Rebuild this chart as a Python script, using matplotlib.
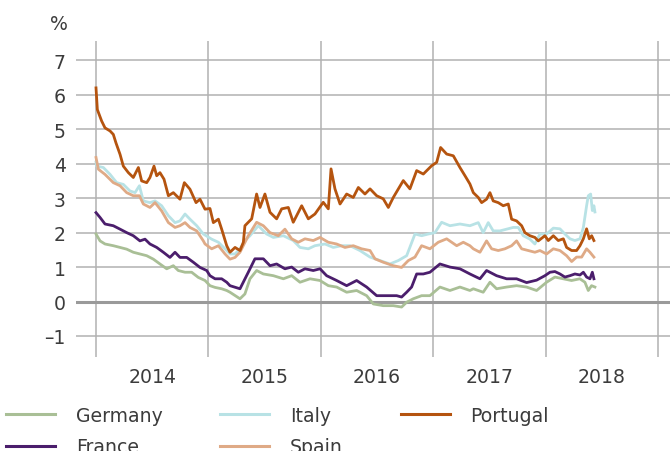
import matplotlib
matplotlib.use("Agg")
import matplotlib.pyplot as plt

# 10y government bond yields, % (decimal year, value)
germany = [(2014.000, 1.96), (2014.036, 1.76), (2014.080, 1.67), (2014.154, 1.62), (2014.214, 1.57),
           (2014.273, 1.52), (2014.332, 1.43), (2014.391, 1.38), (2014.451, 1.33), (2014.510, 1.23),
           (2014.569, 1.09), (2014.629, 0.95), (2014.688, 1.04), (2014.732, 0.90), (2014.792, 0.85),
           (2014.851, 0.85), (2014.910, 0.70), (2014.970, 0.61), (2015.014, 0.46), (2015.059, 0.41),
           (2015.118, 0.37), (2015.163, 0.32), (2015.192, 0.27), (2015.281, 0.08), (2015.325, 0.22),
           (2015.370, 0.66), (2015.429, 0.90), (2015.489, 0.80), (2015.578, 0.75), (2015.667, 0.66),
           (2015.741, 0.75), (2015.815, 0.56), (2015.904, 0.66), (2015.993, 0.61), (2016.067, 0.46),
           (2016.141, 0.42), (2016.230, 0.27), (2016.319, 0.32), (2016.408, 0.17), (2016.467, -0.07),
           (2016.556, -0.12), (2016.645, -0.12), (2016.719, -0.16), (2016.764, -0.02), (2016.823, 0.08),
           (2016.897, 0.17), (2016.971, 0.17), (2017.060, 0.42), (2017.149, 0.32), (2017.238, 0.42),
           (2017.327, 0.32), (2017.357, 0.37), (2017.445, 0.27), (2017.505, 0.56), (2017.564, 0.37),
           (2017.653, 0.42), (2017.742, 0.46), (2017.831, 0.42), (2017.920, 0.32), (2018.009, 0.56),
           (2018.083, 0.71), (2018.157, 0.66), (2018.231, 0.61), (2018.305, 0.66), (2018.350, 0.56),
           (2018.380, 0.32), (2018.409, 0.46), (2018.439, 0.42)]

france = [(2014.000, 2.58), (2014.036, 2.44), (2014.080, 2.25), (2014.154, 2.20), (2014.214, 2.10),
          (2014.273, 2.00), (2014.332, 1.91), (2014.391, 1.76), (2014.436, 1.81), (2014.480, 1.67),
          (2014.540, 1.57), (2014.599, 1.43), (2014.658, 1.28), (2014.703, 1.43), (2014.747, 1.28),
          (2014.807, 1.28), (2014.866, 1.14), (2014.925, 0.99), (2014.985, 0.90), (2015.014, 0.75),
          (2015.059, 0.66), (2015.118, 0.66), (2015.163, 0.56), (2015.192, 0.46), (2015.281, 0.37),
          (2015.355, 0.85), (2015.414, 1.24), (2015.489, 1.24), (2015.548, 1.04), (2015.607, 1.09),
          (2015.681, 0.95), (2015.741, 1.00), (2015.800, 0.85), (2015.859, 0.95), (2015.933, 0.90),
          (2015.993, 0.95), (2016.052, 0.75), (2016.141, 0.61), (2016.230, 0.46), (2016.319, 0.61),
          (2016.408, 0.42), (2016.497, 0.17), (2016.586, 0.17), (2016.675, 0.17), (2016.719, 0.13),
          (2016.764, 0.27), (2016.808, 0.42), (2016.853, 0.80), (2016.912, 0.80), (2016.971, 0.85),
          (2017.060, 1.09), (2017.149, 1.00), (2017.238, 0.95), (2017.327, 0.80), (2017.416, 0.66),
          (2017.475, 0.90), (2017.564, 0.75), (2017.653, 0.66), (2017.742, 0.66), (2017.831, 0.55),
          (2017.920, 0.62), (2017.994, 0.75), (2018.039, 0.85), (2018.083, 0.87), (2018.128, 0.80),
          (2018.172, 0.71), (2018.217, 0.75), (2018.261, 0.80), (2018.306, 0.77), (2018.336, 0.85),
          (2018.365, 0.71), (2018.395, 0.66), (2018.416, 0.85), (2018.430, 0.66)]

italy = [(2014.000, 4.05), (2014.006, 3.93), (2014.065, 3.89), (2014.125, 3.69), (2014.184, 3.45),
         (2014.243, 3.40), (2014.302, 3.21), (2014.347, 3.16), (2014.386, 3.36), (2014.421, 2.92),
         (2014.480, 2.87), (2014.525, 2.92), (2014.584, 2.78), (2014.644, 2.49), (2014.703, 2.29),
         (2014.747, 2.34), (2014.792, 2.54), (2014.836, 2.39), (2014.896, 2.20), (2014.955, 1.96),
         (2015.029, 1.81), (2015.089, 1.72), (2015.148, 1.53), (2015.192, 1.38), (2015.237, 1.38),
         (2015.281, 1.53), (2015.326, 1.77), (2015.370, 1.91), (2015.444, 2.20), (2015.518, 1.96),
         (2015.578, 1.86), (2015.667, 1.91), (2015.755, 1.77), (2015.815, 1.57), (2015.889, 1.53),
         (2015.948, 1.62), (2016.037, 1.67), (2016.111, 1.57), (2016.185, 1.62), (2016.260, 1.62),
         (2016.348, 1.48), (2016.438, 1.29), (2016.526, 1.19), (2016.615, 1.09), (2016.690, 1.19),
         (2016.764, 1.33), (2016.838, 1.96), (2016.897, 1.91), (2016.957, 1.96), (2017.016, 2.00),
         (2017.075, 2.30), (2017.149, 2.20), (2017.238, 2.25), (2017.327, 2.20), (2017.401, 2.29),
         (2017.445, 2.00), (2017.490, 2.29), (2017.534, 2.05), (2017.594, 2.05), (2017.653, 2.10),
         (2017.712, 2.15), (2017.757, 2.15), (2017.801, 1.91), (2017.861, 1.81), (2017.905, 1.67),
         (2017.950, 1.96), (2018.009, 1.96), (2018.069, 2.13), (2018.128, 2.11), (2018.172, 1.96),
         (2018.217, 1.82), (2018.261, 1.77), (2018.306, 1.82), (2018.336, 2.15), (2018.365, 2.78),
         (2018.380, 3.07), (2018.401, 3.12), (2018.416, 2.64), (2018.430, 2.78), (2018.439, 2.60)]

spain = [(2014.000, 4.18), (2014.021, 3.84), (2014.080, 3.69), (2014.154, 3.45), (2014.214, 3.36),
         (2014.273, 3.16), (2014.332, 3.07), (2014.386, 3.07), (2014.421, 2.83), (2014.480, 2.73),
         (2014.525, 2.87), (2014.584, 2.63), (2014.644, 2.29), (2014.703, 2.15), (2014.747, 2.20),
         (2014.792, 2.29), (2014.836, 2.15), (2014.896, 2.05), (2014.955, 1.76), (2014.970, 1.67),
         (2015.029, 1.53), (2015.089, 1.62), (2015.148, 1.38), (2015.192, 1.23), (2015.237, 1.28),
         (2015.281, 1.43), (2015.355, 1.91), (2015.429, 2.30), (2015.489, 2.20), (2015.548, 2.00),
         (2015.622, 1.91), (2015.681, 2.10), (2015.741, 1.82), (2015.800, 1.72), (2015.859, 1.82),
         (2015.933, 1.77), (2015.993, 1.86), (2016.067, 1.72), (2016.141, 1.67), (2016.215, 1.57),
         (2016.289, 1.62), (2016.363, 1.53), (2016.438, 1.48), (2016.482, 1.24), (2016.556, 1.14),
         (2016.645, 1.04), (2016.719, 0.99), (2016.779, 1.19), (2016.838, 1.29), (2016.897, 1.62),
         (2016.971, 1.53), (2017.045, 1.72), (2017.120, 1.82), (2017.209, 1.62), (2017.268, 1.72),
         (2017.327, 1.62), (2017.357, 1.53), (2017.416, 1.43), (2017.475, 1.76), (2017.520, 1.53),
         (2017.579, 1.48), (2017.638, 1.53), (2017.698, 1.62), (2017.742, 1.76), (2017.787, 1.53),
         (2017.846, 1.48), (2017.905, 1.43), (2017.950, 1.48), (2018.009, 1.38), (2018.069, 1.53),
         (2018.128, 1.48), (2018.187, 1.33), (2018.232, 1.16), (2018.276, 1.29), (2018.321, 1.29),
         (2018.365, 1.53), (2018.395, 1.43), (2018.430, 1.29)]

portugal = [(2014.000, 6.20), (2014.012, 5.57), (2014.050, 5.24), (2014.080, 5.04), (2014.125, 4.95),
            (2014.154, 4.85), (2014.178, 4.60), (2014.214, 4.27), (2014.243, 3.93), (2014.288, 3.74),
            (2014.332, 3.60), (2014.377, 3.89), (2014.406, 3.50), (2014.451, 3.45), (2014.480, 3.60),
            (2014.516, 3.93), (2014.540, 3.65), (2014.569, 3.74), (2014.605, 3.55), (2014.644, 3.07),
            (2014.688, 3.16), (2014.747, 2.97), (2014.786, 3.45), (2014.836, 3.26), (2014.890, 2.87),
            (2014.925, 2.97), (2014.970, 2.68), (2015.014, 2.70), (2015.044, 2.29), (2015.089, 2.39),
            (2015.118, 2.10), (2015.163, 1.62), (2015.192, 1.43), (2015.237, 1.57), (2015.281, 1.48),
            (2015.311, 1.72), (2015.325, 2.20), (2015.385, 2.40), (2015.429, 3.12), (2015.459, 2.73),
            (2015.503, 3.12), (2015.548, 2.59), (2015.607, 2.40), (2015.652, 2.69), (2015.711, 2.73),
            (2015.755, 2.30), (2015.830, 2.78), (2015.889, 2.40), (2015.948, 2.54), (2016.022, 2.88),
            (2016.067, 2.69), (2016.091, 3.85), (2016.126, 3.27), (2016.171, 2.83), (2016.230, 3.12),
            (2016.289, 3.02), (2016.334, 3.31), (2016.393, 3.12), (2016.438, 3.27), (2016.497, 3.07),
            (2016.556, 2.98), (2016.601, 2.73), (2016.645, 3.02), (2016.734, 3.51), (2016.793, 3.27),
            (2016.853, 3.80), (2016.912, 3.70), (2016.986, 3.94), (2017.031, 4.04), (2017.066, 4.47),
            (2017.120, 4.28), (2017.179, 4.23), (2017.238, 3.89), (2017.283, 3.65), (2017.327, 3.41),
            (2017.357, 3.16), (2017.401, 3.02), (2017.431, 2.87), (2017.475, 2.97), (2017.505, 3.16),
            (2017.534, 2.92), (2017.579, 2.87), (2017.623, 2.78), (2017.668, 2.83), (2017.698, 2.39),
            (2017.742, 2.34), (2017.787, 2.20), (2017.816, 2.00), (2017.861, 1.91), (2017.905, 1.86),
            (2017.935, 1.76), (2017.994, 1.91), (2018.024, 1.77), (2018.069, 1.91), (2018.113, 1.77),
            (2018.158, 1.82), (2018.187, 1.57), (2018.232, 1.48), (2018.276, 1.48), (2018.306, 1.62),
            (2018.336, 1.82), (2018.365, 2.11), (2018.389, 1.82), (2018.410, 1.91), (2018.430, 1.77)]

names = ["Germany", "France", "Italy", "Spain", "Portugal"]
colors = ["#a9bf96", "#4b1e6c", "#b8e2e5", "#dfaa86", "#b5540f"]
years = [2014, 2015, 2016, 2017, 2018]
y_ticks = [-1, 0, 1, 2, 3, 4, 5, 6, 7]

FS = 13.6
TXT = "#3c3c3c"
GRID = "#b2b2b2"

fig = plt.figure(figsize=(6.7, 4.52), dpi=100)
ax = fig.add_axes([76 / 670, 94 / 452, 594 / 670, 316.3 / 452])

for name, col, series in zip(names, colors, [germany, france, italy, spain, portugal]):
    t, v = zip(*series)
    ax.plot(t, v, color=col, lw=2.0, label=name, zorder=3, solid_joinstyle="round")

# grid
for y in y_ticks:
    if y == 0:
        ax.axhline(0, color="#9a9a9a", lw=2.2, zorder=2)
    else:
        ax.axhline(y, color=GRID, lw=1.1, zorder=1)
for yr in years + [2019]:
    ax.axvline(yr, color=GRID, lw=1.1, zorder=1)

ax.set_xlim(2013.822, 2019.107)
ax.set_ylim(-1.61, 7.57)
for s in ax.spines.values():
    s.set_visible(False)

ax.set_yticks(y_ticks)
ax.set_yticklabels(["\u20131" if y < 0 else str(y) for y in y_ticks])
ax.set_xticks([yr + 0.5 for yr in years])
ax.set_xticklabels([str(yr) for yr in years])
ax.tick_params(axis="both", length=0, labelsize=FS, labelcolor=TXT)
ax.tick_params(axis="y", pad=7.5)
ax.tick_params(axis="x", pad=7)

fig.text(68 / 670, 1 - 25 / 452, "%", ha="right", va="center", fontsize=FS, color=TXT)

fig.legend(loc="upper left", bbox_to_anchor=(6 / 670, 1 - 407 / 452), ncol=3, frameon=False,
           fontsize=FS, handlelength=2.6, handletextpad=1.1, columnspacing=3.05,
           labelspacing=0.66, borderpad=0, borderaxespad=0, labelcolor=TXT)
for line in fig.legends[0].get_lines():
    line.set_linewidth(2.2)

fig.savefig("out.png", dpi=100)
